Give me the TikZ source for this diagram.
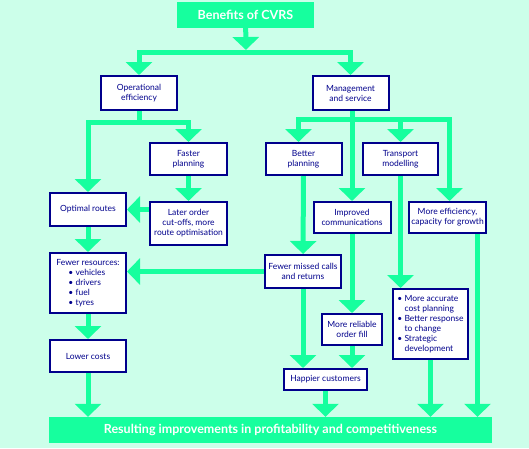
\documentclass[tikz,border=0pt]{standalone}
\usepackage{fontspec}
\setmainfont{Lato}
\usetikzlibrary{arrows.meta}
\definecolor{bg}{RGB}{204,255,234}
\definecolor{grn}{RGB}{22,255,158}
\definecolor{navy}{RGB}{0,0,140}
\tikzstyle{bx}=[draw=navy,line width=2pt,fill=white,text=navy,align=center,inner sep=0pt,font=\fontsize{8.5}{10}\selectfont]
\tikzstyle{banner}=[fill=grn,text=white,inner sep=0pt,font=\fontsize{12.5}{14}\selectfont\bfseries]
\tikzstyle{ln}=[draw=grn,line width=5pt]
\tikzstyle{arr}=[ln,-{Triangle[width=26pt,length=13pt]}]

\begin{document}
\begin{tikzpicture}[x=1pt,y=-1pt]
	\fill[bg] (0,0) rectangle (529,448);
	\useasboundingbox (0,0) rectangle (529,448);
	\node[banner,minimum width=137pt,minimum height=26pt] (title) at (245.5,15) {Benefits of CVRS};
	\node[bx,minimum width=76pt,minimum height=34pt] (op) at (139,93) {Operational\\efficiency};
	\node[bx,minimum width=76pt,minimum height=34pt] (mg) at (350.5,93) {Management\\and service};
	\node[bx,minimum width=77pt,minimum height=32pt] (fast) at (188.5,159) {Faster\\planning};
	\node[bx,minimum width=76pt,minimum height=32pt] (bp) at (303.5,159) {Better\\planning};
	\node[bx,minimum width=75pt,minimum height=32pt] (tm) at (400.5,159) {Transport\\modelling};
	\node[bx,minimum width=76pt,minimum height=33pt] (opt) at (88,209.5) {Optimal routes};
	\node[bx,minimum width=77pt,minimum height=43pt] (later) at (188.5,223.5) {Later order\\cut-offs, more\\route optimisation};
	\node[bx,minimum width=77pt,minimum height=31pt] (impr) at (352,217.5) {Improved\\communications};
	\node[bx,minimum width=77pt,minimum height=31pt] (me) at (447.5,217.5) {More efficiency,\\capacity for growth};
	\node[bx,minimum width=76pt,minimum height=60pt,align=left] (fr) at (88,283) {Fewer resources:\\\hspace*{12pt}\textbullet\ vehicles\\\hspace*{12pt}\textbullet\ drivers\\\hspace*{12pt}\textbullet\ fuel\\\hspace*{12pt}\textbullet\ tyres};
	\node[bx,minimum width=76pt,minimum height=33pt] (fmc) at (303,271.5) {Fewer missed calls\\and returns};
	\node[bx,minimum width=75pt,minimum height=70pt,align=left] (ma) at (430.5,324) {\textbullet\ More accurate\\\phantom{\textbullet\ }cost planning\\\textbullet\ Better response\\\phantom{\textbullet\ }to change\\\textbullet\ Strategic\\\phantom{\textbullet\ }development};
	\node[bx,minimum width=60pt,minimum height=31pt] (mrel) at (352,329.5) {More reliable\\order fill};
	\node[bx,minimum width=76pt,minimum height=32pt] (lc) at (88,356) {Lower costs};
	\node[bx,minimum width=83pt,minimum height=21pt] (hap) at (325.5,379.5) {Happier customers};
	\node[banner,minimum width=443pt,minimum height=26pt] (res) at (270.5,430) {Resulting improvements in profitability and competitiveness};
	\coordinate (j1) at (246,52.5);
	\coordinate (j2) at (139,122);
	\coordinate (j3) at (352,119.5);
	\draw[arr] (title) -- ([yshift=2.5pt]j1);
	\draw[arr] (j1) -| (op);
	\draw[arr] (j1) -| (mg);
	\draw[ln] (op) -- (j2);
	\draw[arr] (j2) -| (opt);
	\draw[arr] (j2) -| (fast);
	\draw[arr] (mg.south -| impr.north) -- (impr.north);
	\draw[arr] (j3) -| ([xshift=-5pt]bp.north);
	\draw[arr] (j3) -| (tm);
	\draw[arr] (j3) -| ([xshift=2pt]me.north);
	\draw[arr] (fast) -- (later);
	\draw[arr] (later.west |- opt) -- (opt);
	\draw[arr] (opt) -- (fr);
	\draw[arr] (fmc.west) -- (fmc.west -| fr.east);
	\draw[arr] (fr) -- (lc);
	\draw[arr] (lc.south) -- (lc.south |- res.north);
	\draw[arr] (bp) -- (fmc);
	\draw[arr] (impr) -- (mrel);
	\draw[arr] (tm.south) -- (tm.south |- ma.north);
	\draw[arr] (fmc.south) -- (fmc.south |- hap.north);
	\draw[arr] (mrel.south) -- (mrel.south |- hap.north);
	\draw[arr] (hap.south) -- (hap.south |- res.north);
	\draw[arr] (ma.south) -- (ma.south |- res.north);
	\draw[arr] ([xshift=30pt]me.south) -- ([xshift=30pt]me.south |- res.north);
\end{tikzpicture}
\end{document}
